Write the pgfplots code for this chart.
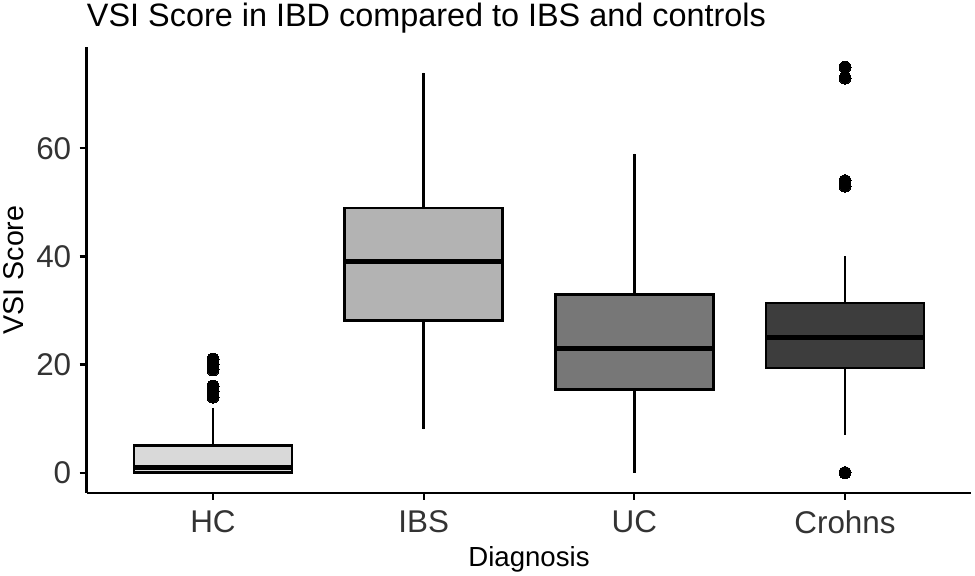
\documentclass[border=0pt]{standalone}
\usepackage{pgfplots}
\pgfplotsset{compat=1.18}
\usepgfplotslibrary{statistics}
\usepackage{fontspec}
\setmainfont{Liberation Sans}
\definecolor{cHC}{HTML}{D9D9D9}
\definecolor{cIBS}{HTML}{B3B3B3}
\definecolor{cUC}{HTML}{777777}
\definecolor{cCD}{HTML}{3D3D3D}
\begin{document}
\begin{tikzpicture}
\begin{axis}[
  scale only axis,
  width=442.4pt, height=223pt,
  xmin=0.4, xmax=4.6,
  ymin=-3.75, ymax=78.75,
  axis lines=left,
  axis line style={-, line width=1.2pt, black},
  xtick={1,2,3,4},
  xticklabels={HC,IBS,UC,Crohns},
  ytick={0,20,40,60},
  tick align=outside,
  major tick length=3.5pt,
  tick style={black, line width=1.1pt},
  /pgf/number format/assume math mode=true,
  ticklabel style={font=\fontsize{15.7}{18}\selectfont, text=black!80},
  xticklabel style={inner sep=5pt},
  yticklabel style={inner sep=4pt},
  every axis title shift=0pt,
  title={VSI Score in IBD compared to IBS and controls},
  title style={at={(axis description cs:0,1.0448)}, anchor=base west, yshift=0pt, inner sep=0pt, font=\fontsize{16.2}{19}\selectfont},
  xlabel={Diagnosis},
  xlabel style={at={(axis description cs:0.5,-0.1659)}, anchor=base, inner sep=0pt, font=\fontsize{13.8}{16}\selectfont},
  ylabel={VSI Score},
  ylabel style={at={(axis description cs:-0.0712,0.5)}, anchor=base, inner sep=0pt, font=\fontsize{14.3}{17}\selectfont},
  boxplot/draw direction=y,
  boxplot/box extend=0.75,
  boxplot/whisker extend=0,
  boxplot/every box/.style={draw=black, line width=1.3pt},
  boxplot/every whisker/.style={black, line width=1.2pt},
  boxplot/every median/.style={black, line width=2.6pt},
  clip=false,
]
\addplot[boxplot prepared={lower whisker=0, lower quartile=0, median=1, upper quartile=5, upper whisker=12, draw position=1},
  fill=cHC, draw=black, mark=*, mark size=3pt, mark options={fill=black, draw=black, line width=0pt}]
  coordinates {(0,21) (0,20) (0,19) (0,16) (0,15) (0,14)};
\addplot[boxplot prepared={lower whisker=8, lower quartile=28.2, median=39, upper quartile=49, upper whisker=74, draw position=2},
  fill=cIBS, draw=black, mark=*, mark size=3pt, mark options={fill=black, draw=black, line width=0pt}]
  coordinates {};
\addplot[boxplot prepared={lower whisker=0, lower quartile=15.4, median=23, upper quartile=33, upper whisker=59, draw position=3},
  fill=cUC, draw=black, mark=*, mark size=3pt, mark options={fill=black, draw=black, line width=0pt}]
  coordinates {};
\addplot[boxplot prepared={lower whisker=7, lower quartile=19.4, median=25, upper quartile=31.4, upper whisker=40, draw position=4},
  fill=cCD, draw=black, mark=*, mark size=3pt, mark options={fill=black, draw=black, line width=0pt}]
  coordinates {(0,75) (0,73) (0,54) (0,53) (0,0)};
\end{axis}
\pgfresetboundingbox
\path[use as bounding box] (-43.3pt,-41.5pt) rectangle (444.2pt,246.5pt);
\end{tikzpicture}
\end{document}
